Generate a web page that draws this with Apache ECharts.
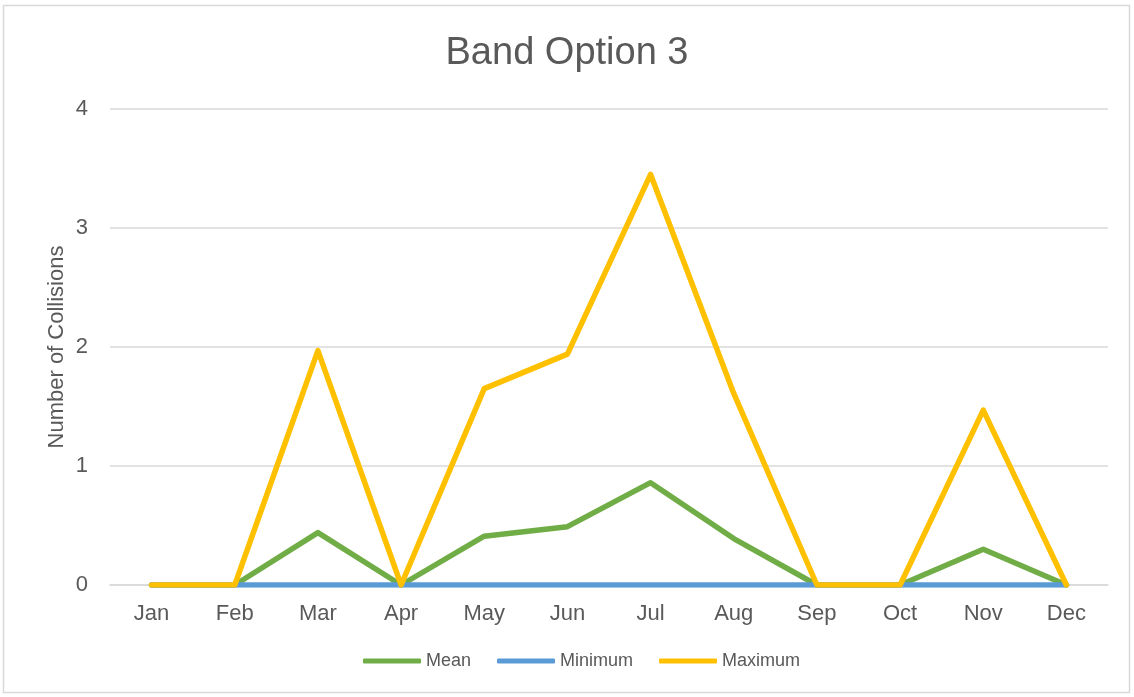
<!DOCTYPE html>
<html>
<head>
<meta charset="utf-8">
<script src="https://cdn.jsdelivr.net/npm/echarts@6/dist/echarts.min.js"></script>
<style>
  html, body { margin: 0; padding: 0; background: #ffffff; }
  #chart { width: 1134px; height: 697px; }
</style>
</head>
<body>
<div id="chart"></div>
<script>
// Monthly collision band: mean, minimum and maximum
const months = ['Jan', 'Feb', 'Mar', 'Apr', 'May', 'Jun', 'Jul', 'Aug', 'Sep', 'Oct', 'Nov', 'Dec'];
const meanValues = [0, 0, 0.44, 0, 0.41, 0.49, 0.86, 0.39, 0, 0, 0.30, 0];
const minValues = [0, 0, 0, 0, 0, 0, 0, 0, 0, 0, 0, 0];
const maxValues = [0, 0, 1.97, 0, 1.65, 1.94, 3.45, 1.61, 0, 0, 1.47, 0];

const FONT = '"Liberation Sans", Arial, sans-serif';
const TEXT = '#595959';

function lineSeries(name, data, color, z) {
  return {
    name: name,
    type: 'line',
    data: data,
    z: z,
    symbol: 'none',
    lineStyle: { color: color, width: 5.5, cap: 'round', join: 'round' },
    itemStyle: { color: color },
    emphasis: { disabled: true },
    animation: false
  };
}

const chart = echarts.init(document.getElementById('chart'), null, { renderer: 'canvas' });
chart.setOption({
  backgroundColor: '#ffffff',
  animation: false,
  textStyle: { fontFamily: FONT },
  title: {
    text: 'Band Option 3',
    left: 'center',
    top: 30,
    textStyle: { fontFamily: FONT, fontSize: 38, fontWeight: 'normal', color: TEXT }
  },
  graphic: [{
    type: 'rect',
    shape: { x: 3.5, y: 5.5, width: 1126, height: 687 },
    style: { fill: 'none', stroke: '#d9d9d9', lineWidth: 1.5 },
    silent: true,
    z: -10
  }],
  legend: {
    bottom: 22,
    left: 358,
    itemWidth: 58,
    itemHeight: 5,
    itemGap: 26,
    icon: 'roundRect',
    textStyle: { fontFamily: FONT, fontSize: 18, color: TEXT },
    data: ['Mean', 'Minimum', 'Maximum']
  },
  grid: { left: 110, right: 26, top: 109, bottom: 112, containLabel: false },
  xAxis: {
    type: 'category',
    data: months,
    boundaryGap: true,
    axisLine: { show: true, lineStyle: { color: '#d9d9d9', width: 1.5 } },
    axisTick: { show: false },
    axisLabel: { fontFamily: FONT, fontSize: 22, color: TEXT, margin: 18 }
  },
  yAxis: {
    type: 'value',
    min: 0,
    max: 4,
    interval: 1,
    name: 'Number of Collisions',
    nameLocation: 'middle',
    nameGap: 42,
    nameMoveOverlap: false,
    nameTextStyle: { fontFamily: FONT, fontSize: 22, color: TEXT },
    axisLine: { show: false },
    axisTick: { show: false },
    axisLabel: { fontFamily: FONT, fontSize: 22, color: TEXT, margin: 22 },
    splitLine: { lineStyle: { color: '#d9d9d9', width: 1.5 } }
  },
  series: [
    lineSeries('Mean', meanValues, '#70AD47', 2),
    lineSeries('Minimum', minValues, '#5B9BD5', 3),
    lineSeries('Maximum', maxValues, '#FFC000', 4)
  ]
});
</script>
</body>
</html>
